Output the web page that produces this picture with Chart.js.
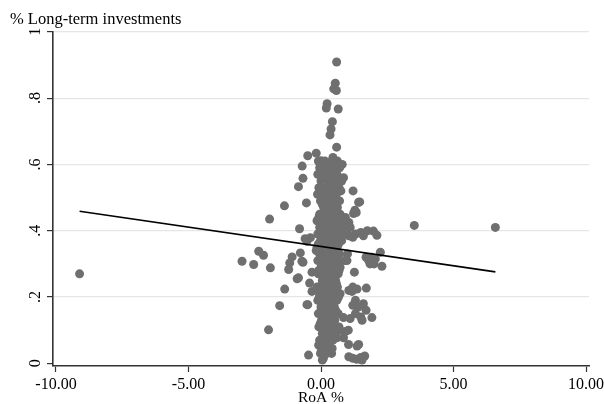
<!DOCTYPE html>
<html>
<head>
<meta charset="utf-8">
<script src="https://cdn.jsdelivr.net/npm/chart.js@4"></script>
<style>
  html, body { margin: 0; padding: 0; background: #ffffff; }
  #wrap { width: 604px; height: 404px; }
</style>
</head>
<body>
<div id="wrap"><canvas id="c" width="604" height="404"></canvas></div>
<script>
// ---- data ----
const xTickValues = [-10, -5, 0, 5, 10];
const xTickLabels = ['-10.00', '-5.00', '0.00', '5.00', '10.00'];
const yTickValues = [0, 0.2, 0.4, 0.6, 0.8, 1];
const yTickLabels = ['0', '.2', '.4', '.6', '.8', '1'];

// scattered observations (RoA %, share of long-term investments)
const roaScatter = [
  0.59, 0.54, 0.48, 0.58, 0.23, 0.20, 0.65, 0.43, 0.38, 0.34, 0.59,
  -0.18, -0.50, 0.45, 0.00, -0.71, 0.73, -0.68, -0.85, -0.13, 1.21, 1.42, -0.55, -1.38, -1.94, 1.33, 1.46, 1.23, 1.28, 1.05, 1.10,
  -0.81, -0.40, -0.53, -2.35, -2.17, -2.98, -2.54, -1.91, -0.78, -1.09, -1.18, -0.68, -1.22, -0.18, -0.34, -0.90, -1.37, -0.43, -0.34, -0.72, -0.85, -0.60, -0.53,
  0.98, 1.30, 1.50, 1.75, 1.98, 2.11, 1.20, 1.05, 1.60,
  1.80, 1.90, 2.00, 2.24, 2.30, 1.70, 1.85, 2.05, 0.98, 1.00, 1.26, 1.71, 1.17, 1.05, 1.36, 1.20, 0.90,
  -1.56, -0.50, -1.98, -0.47, 0.05, -0.09, 0.42, 1.04, 1.42, 1.05, 1.20, 1.35, 1.50, 1.65, 1.55,
  1.10, 1.30, 1.50, 1.70, 1.92, 1.40, 1.20, 1.60, 0.85, 0.92, 1.03, 0.70, 1.30, 1.55, 0.60, 0.85, 1.36, 0.09,
  -9.11, 3.52, 6.58
];
const invScatter = [
  0.909, 0.845, 0.828, 0.823, 0.783, 0.770, 0.767, 0.729, 0.707, 0.689, 0.652,
  0.634, 0.626, 0.621, 0.611, 0.595, 0.595, 0.558, 0.533, 0.510, 0.520, 0.486, 0.484, 0.475, 0.435, 0.455, 0.487, 0.452, 0.462, 0.425, 0.410,
  0.406, 0.379, 0.368, 0.338, 0.326, 0.308, 0.298, 0.288, 0.333, 0.321, 0.303, 0.305, 0.283, 0.340, 0.275, 0.255, 0.224, 0.242, 0.217, 0.308, 0.258, 0.376, 0.177,
  0.400, 0.390, 0.395, 0.400, 0.399, 0.386, 0.380, 0.385, 0.385,
  0.310, 0.320, 0.300, 0.335, 0.293, 0.320, 0.300, 0.315, 0.310, 0.330, 0.275, 0.227, 0.217, 0.220, 0.224, 0.230, 0.310,
  0.174, 0.177, 0.101, 0.025, 0.010, 0.055, 0.045, 0.057, 0.057, 0.020, 0.015, 0.012, 0.018, 0.022, 0.010,
  0.135, 0.150, 0.140, 0.160, 0.138, 0.170, 0.175, 0.180, 0.138, 0.096, 0.100, 0.100, 0.190, 0.130, 0.077, 0.077, 0.052, 0.015,
  0.270, 0.416, 0.410
];

// the dense central band of observations
const roaBand = [
  -0.10, 0.15, 0.40, 0.62,
  -0.05, 0.22, 0.50, 0.70,
  -0.12, 0.08, 0.35, 0.60,
  0.00, 0.28, 0.55, 0.78,
  -0.08, 0.18, 0.45, 0.68,
  0.05, 0.30, 0.58,
  -0.02, 0.22, 0.48, 0.70,
  0.10, 0.35, 0.62,
  -0.05, 0.20, 0.45, 0.72,
  -0.15, 0.08, 0.32, 0.58, 0.85,
  -0.05, 0.20, 0.45, 0.70, 0.95,
  -0.12, 0.12, 0.38, 0.62, 0.88,
  -0.02, 0.25, 0.50, 0.78,
  -0.15, 0.10, 0.35, 0.60,
  -0.05, 0.22, 0.48, 0.70,
  -0.12, 0.12, 0.38, 0.62,
  0.00, 0.25, 0.50, 0.72,
  -0.10, 0.15, 0.40, 0.65,
  0.05, 0.30, 0.55,
  -0.15, 0.10, 0.35, 0.62,
  -0.05, 0.22, 0.48, 0.72,
  -0.12, 0.12, 0.38, 0.60,
  0.00, 0.25, 0.50,
  -0.10, 0.15, 0.40, 0.65,
  0.02, 0.28, 0.52,
  -0.08, 0.18, 0.42, 0.68,
  0.05, 0.30, 0.55,
  -0.05, 0.20, 0.45,
  0.08, 0.32,
  -0.02, 0.22, 0.40,
  // second layer filling the gaps
  0.02, 0.28, 0.52, 0.80,
  0.05, 0.30, 0.58, 0.85,
  0.00, 0.25, 0.50, 0.75,
  0.05, 0.32, 0.58,
  -0.08, 0.18, 0.42, 0.68, 0.92,
  0.05, 0.30, 0.55, 0.80,
  -0.10, 0.15, 0.40, 0.66,
  0.02, 0.28, 0.55,
  -0.08, 0.18, 0.42, 0.68,
  0.05, 0.30, 0.58,
  -0.06, 0.20, 0.45, 0.66,
  0.05, 0.30, 0.55,
  -0.03, 0.22, 0.45,
  0.08, 0.32, 0.55,
  0.02, 0.25
];
const invBand = [
  0.61, 0.61, 0.61, 0.61,
  0.59, 0.59, 0.59, 0.59,
  0.57, 0.57, 0.57, 0.57,
  0.55, 0.55, 0.55, 0.55,
  0.53, 0.53, 0.53, 0.53,
  0.51, 0.51, 0.51,
  0.49, 0.49, 0.49, 0.49,
  0.47, 0.47, 0.47,
  0.45, 0.45, 0.45, 0.45,
  0.43, 0.43, 0.43, 0.43, 0.43,
  0.41, 0.41, 0.41, 0.41, 0.41,
  0.39, 0.39, 0.39, 0.39, 0.39,
  0.37, 0.37, 0.37, 0.37,
  0.35, 0.35, 0.35, 0.35,
  0.33, 0.33, 0.33, 0.33,
  0.31, 0.31, 0.31, 0.31,
  0.29, 0.29, 0.29, 0.29,
  0.27, 0.27, 0.27, 0.27,
  0.25, 0.25, 0.25,
  0.23, 0.23, 0.23, 0.23,
  0.21, 0.21, 0.21, 0.21,
  0.19, 0.19, 0.19, 0.19,
  0.17, 0.17, 0.17,
  0.15, 0.15, 0.15, 0.15,
  0.13, 0.13, 0.13,
  0.11, 0.11, 0.11, 0.11,
  0.09, 0.09, 0.09,
  0.07, 0.07, 0.07,
  0.05, 0.05,
  0.03, 0.03, 0.03,
  // second layer
  0.60, 0.60, 0.60, 0.60,
  0.56, 0.56, 0.56, 0.56,
  0.52, 0.52, 0.52, 0.52,
  0.48, 0.48, 0.48,
  0.44, 0.44, 0.44, 0.44, 0.44,
  0.40, 0.40, 0.40, 0.40,
  0.36, 0.36, 0.36, 0.36,
  0.32, 0.32, 0.32,
  0.28, 0.28, 0.28, 0.28,
  0.24, 0.24, 0.24,
  0.20, 0.20, 0.20, 0.20,
  0.16, 0.16, 0.16,
  0.12, 0.12, 0.12,
  0.08, 0.08, 0.08,
  0.04, 0.04
];

// fitted regression line end points
const fitX = [-9.11, 6.58];
const fitY = [0.459, 0.276];

// ---- build chart ----
const serif = "'Liberation Serif', 'Times New Roman', serif";
const scatterPts = roaScatter.map((x, i) => ({ x: x, y: invScatter[i] }))
  .concat(roaBand.map((x, i) => ({ x: x, y: invBand[i] })));
const fitPts = fitX.map((x, i) => ({ x: x, y: fitY[i] }));

new Chart(document.getElementById('c'), {
  type: 'scatter',
  data: {
    datasets: [
      {
        label: 'obs',
        data: scatterPts,
        backgroundColor: '#6f6f6f',
        borderColor: '#6f6f6f',
        borderWidth: 0,
        pointRadius: 4.5,
        pointHoverRadius: 4.5,
        order: 2
      },
      {
        type: 'line',
        label: 'fit',
        data: fitPts,
        borderColor: '#000000',
        borderWidth: 1.6,
        pointRadius: 0,
        fill: false,
        tension: 0,
        order: 1
      }
    ]
  },
  options: {
    responsive: false,
    animation: false,
    devicePixelRatio: 1,
    layout: { padding: { left: 10, right: 15, top: 0, bottom: 0 } },
    plugins: {
      legend: { display: false },
      tooltip: { enabled: false },
      title: {
        display: true,
        text: '% Long-term investments',
        align: 'start',
        color: '#000000',
        font: { family: serif, size: 16.5, weight: 'normal' },
        padding: { top: 10, bottom: 2 }
      }
    },
    scales: {
      x: {
        type: 'linear',
        min: -10.113,
        max: 10.113,
        afterBuildTicks: (s) => { s.ticks = xTickValues.map(v => ({ value: v })); },
        afterFit: (s) => { s.height = 38; s.paddingLeft = 0; s.paddingRight = 0; },
        ticks: {
          autoSkip: false,
          maxRotation: 0,
          padding: 3,
          color: '#000000',
          font: { family: serif, size: 16 },
          callback: (v) => xTickLabels[xTickValues.indexOf(v)]
        },
        grid: {
          drawOnChartArea: false,
          drawTicks: true,
          tickLength: 6,
          tickColor: '#333333',
          tickWidth: 1.2
        },
        border: { display: true, color: '#333333', width: 1.6 },
        title: {
          display: true,
          text: 'RoA %',
          color: '#000000',
          font: { family: serif, size: 15.5, lineHeight: 1 },
          padding: { top: 0, bottom: -1.5 }
        }
      },
      y: {
        type: 'linear',
        min: -0.008,
        max: 1,
        afterBuildTicks: (s) => { s.ticks = yTickValues.map(v => ({ value: v })); },
        afterFit: (s) => { s.width = 43; s.paddingTop = 0; s.paddingBottom = 0; },
        ticks: {
          autoSkip: false,
          minRotation: 90,
          maxRotation: 90,
          crossAlign: 'center',
          padding: 5,
          color: '#000000',
          font: { family: serif, size: 16 },
          callback: (v) => yTickLabels[yTickValues.indexOf(v)]
        },
        grid: {
          drawOnChartArea: true,
          drawTicks: true,
          tickLength: 6,
          tickColor: '#333333',
          tickWidth: 1.2,
          lineWidth: 1.2,
          color: (ctx) => (ctx.tick && ctx.tick.value === 0) ? 'rgba(0,0,0,0)' : '#e6e6e6'
        },
        border: { display: true, color: '#333333', width: 1.6 }
      }
    }
  }
});
</script>
</body>
</html>
